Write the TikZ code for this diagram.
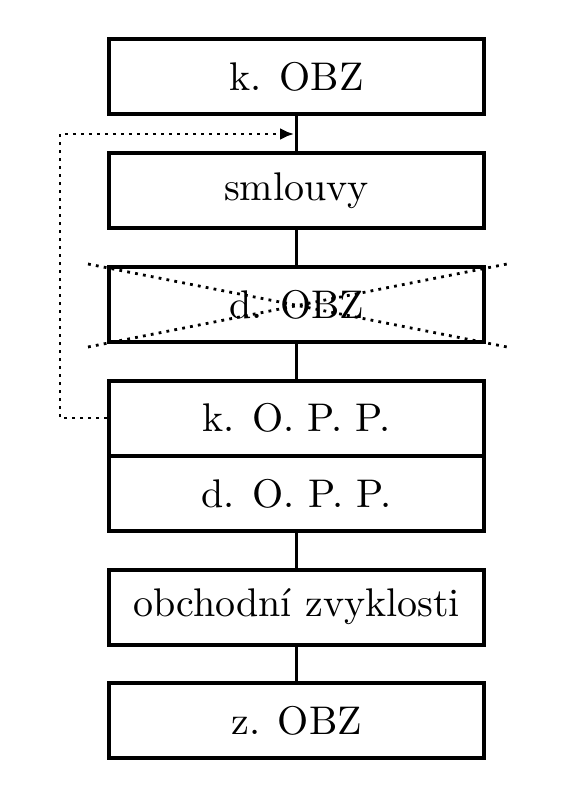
\documentclass[tikz,border=0pt]{standalone}
\usetikzlibrary{arrows.meta}
\begin{document}
\begin{tikzpicture}[x=0.25pt,y=-0.25pt,
  box/.style={draw,line width=1pt,rectangle,inner sep=0pt,minimum width=93.75pt,minimum height=18.75pt},
  link/.style={line width=0.9pt},
  dotline/.style={line width=0.7pt,dash pattern=on 0.7pt off 1.3pt}]
\fill[white] (0,0) rectangle (581,791);
\useasboundingbox (0,0) rectangle (581,791);
\node[box] (b1) at (296.5,77) {k. OBZ};
\node[box] (b2) at (296.5,190.5) {smlouvy};
\node[box] (b3) at (296.5,304.5) {d. OBZ};
\node[box] (b4) at (296.5,418) {k. O. P. P.};
\node[box] (b5) at (296.5,493.5) {d. O. P. P.};
\node[box] (b6) at (296.5,607) {obchodní zvyklosti};
\node[box] (b7) at (296.5,720.5) {z. OBZ};
\draw[link] (b1.south) -- (b2.north);
\draw[link] (b2.south) -- (b3.north);
\draw[link] (b3.south) -- (b4.north);
\draw[link] (b5.south) -- (b6.north);
\draw[link] (b6.south) -- (b7.north);
\coordinate (L) at (60,134);
\coordinate (T) at (294,134);
\draw[dotline,-{Latex[length=3.5pt,width=3pt]}] (b4.west) -| (L) -- (T);
\coordinate (x1) at (88,264);
\coordinate (x2) at (507,347);
\coordinate (x3) at (88,347);
\coordinate (x4) at (507,264);
\draw[dotline] (x1) -- (x2);
\draw[dotline] (x3) -- (x4);
\end{tikzpicture}
\end{document}
